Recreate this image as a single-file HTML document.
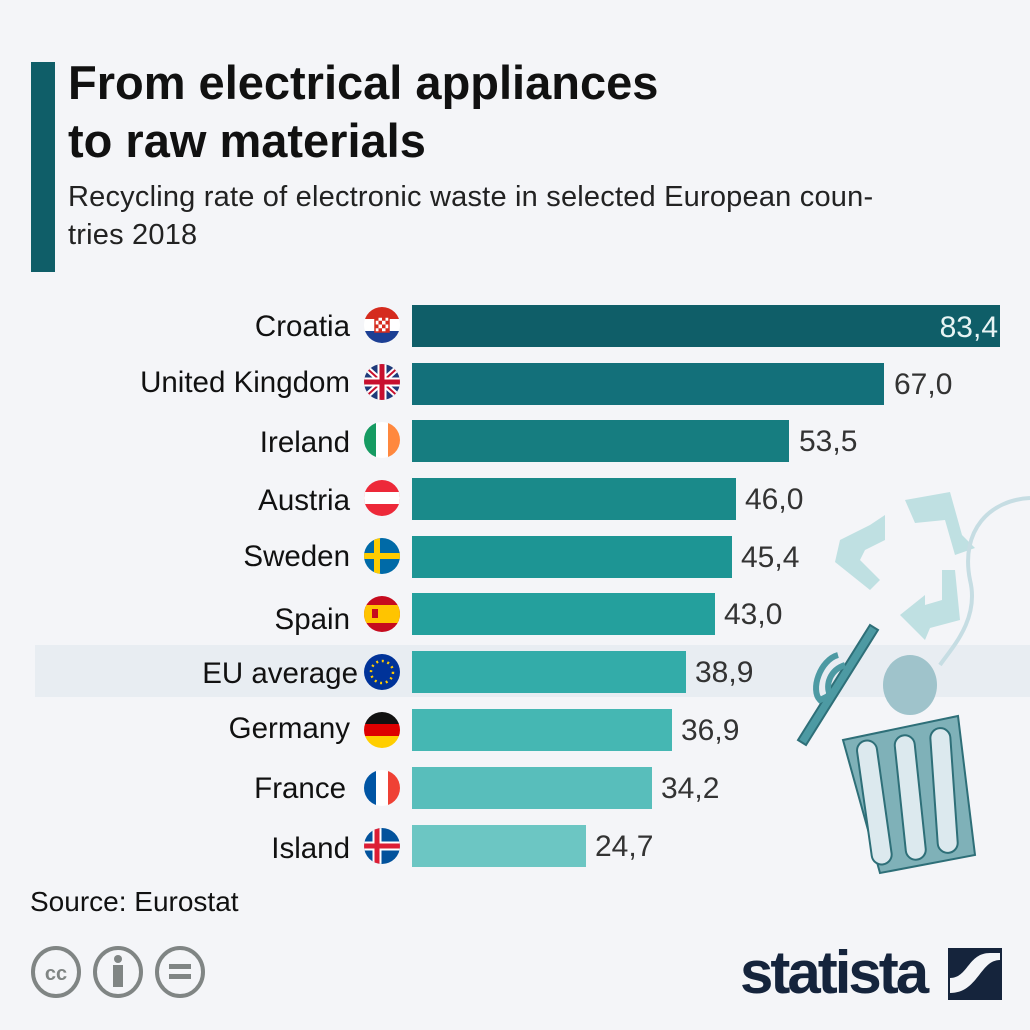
<!DOCTYPE html>
<html><head><style>
body{margin:0;background:#f4f5f8;}
#c{position:relative;width:1030px;height:1030px;background:#f4f5f8;font-family:"Liberation Sans",sans-serif;overflow:hidden}
.t{position:absolute;white-space:nowrap}
.lab{position:absolute;right:680px;font-size:29.5px;color:#111;white-space:nowrap}
.bar{position:absolute;left:412px;height:42px}
.val{position:absolute;font-size:30px;color:#333}
</style></head><body><div id="c">
<div style="position:absolute;left:31px;top:62px;width:24px;height:210px;background:#0f5e68"></div>
<div class="t" style="left:68px;top:54px;font-size:47px;font-weight:bold;line-height:58px;color:#111">From electrical appliances<br>to raw materials</div>
<div class="t" style="left:68px;top:178px;font-size:29px;line-height:38px;color:#222;letter-spacing:0.2px">Recycling rate of electronic waste in selected European coun-<br>tries 2018</div>
<div style="position:absolute;left:35px;top:645px;width:995px;height:52px;background:#e8edf2"></div>

<svg style="position:absolute;left:0;top:0" width="1030" height="1030">
<g fill="#bfe0e2">
<path d="M905 500 L950 492 L962 535 L975 548 L955 555 L945 520 L915 523 Z"/>
<path d="M840 540 L870 525 L885 515 L885 540 L865 550 L860 560 L880 580 L870 590 L835 562 Z"/>
<path d="M955 570 L960 620 L930 628 L925 640 L900 615 L925 595 L925 605 L942 600 L942 570 Z"/>
</g>
<path d="M1030 498 C990 500 960 530 970 580 C980 620 950 650 940 665" fill="none" stroke="#c6dde3" stroke-width="4"/>
<ellipse cx="910" cy="685" rx="27" ry="30" fill="#9fc3cb"/>
<path d="M870 625 L798 740 L806 745 L878 630 Z" fill="#4d9aa3" stroke="#2e6f78" stroke-width="2"/>
<path d="M838 655 C820 660 810 690 820 700 L830 695 C825 685 830 670 845 665" fill="none" stroke="#4d9aa3" stroke-width="6"/>
<path d="M843 740 L958 716 L975 855 L880 873 Z" fill="#7fb1b8" stroke="#2e6f78" stroke-width="2"/>
<g fill="#dce9ee" stroke="#2e6f78" stroke-width="2">
<rect x="864" y="740" width="20" height="125" rx="10" transform="rotate(-8 874 800)"/>
<rect x="900" y="735" width="20" height="125" rx="10" transform="rotate(-6 910 795)"/>
<rect x="934" y="728" width="20" height="125" rx="10" transform="rotate(-4 944 790)"/>
</g>
</svg>

<div class="bar" style="top:305px;width:588px;background:#0f5e68"></div>
<div class="val" style="right:32px;top:311px;color:#e8f4f4">83,4</div>
<div class="bar" style="top:363px;width:472px;background:#13707a"></div><div class="val" style="left:894px;top:368px">67,0</div>
<div class="bar" style="top:420px;width:377px;background:#167d80"></div><div class="val" style="left:799px;top:425px">53,5</div>
<div class="bar" style="top:478px;width:324px;background:#1a8a8a"></div><div class="val" style="left:745px;top:483px">46,0</div>
<div class="bar" style="top:536px;width:320px;background:#1d9594"></div><div class="val" style="left:741px;top:541px">45,4</div>
<div class="bar" style="top:593px;width:303px;background:#24a09d"></div><div class="val" style="left:724px;top:598px">43,0</div>
<div class="bar" style="top:651px;width:274px;background:#33aca9"></div><div class="val" style="left:695px;top:656px">38,9</div>
<div class="bar" style="top:709px;width:260px;background:#45b7b3"></div><div class="val" style="left:681px;top:714px">36,9</div>
<div class="bar" style="top:767px;width:240px;background:#58bebb"></div><div class="val" style="left:661px;top:772px">34,2</div>
<div class="bar" style="top:825px;width:174px;background:#6cc6c3"></div><div class="val" style="left:595px;top:830px">24,7</div>

<div class="lab" style="top:310px">Croatia</div>
<div class="lab" style="top:366px">United Kingdom</div>
<div class="lab" style="top:426px">Ireland</div>
<div class="lab" style="top:484px">Austria</div>
<div class="lab" style="top:540px">Sweden</div>
<div class="lab" style="top:603px">Spain</div>
<div class="lab" style="top:657px;right:672px">EU average</div>
<div class="lab" style="top:712px">Germany</div>
<div class="lab" style="top:772px;right:684px">France</div>
<div class="lab" style="top:832px">Island</div>

<svg style="position:absolute;left:362px;top:0" width="40" height="900">
<defs><clipPath id="cp"><circle cx="20" cy="0" r="18"/></clipPath></defs>
<g transform="translate(0,325)" clip-path="url(#cp)"><rect x="0" y="-18" width="40" height="12" fill="#d52b1e"/><rect x="0" y="-6" width="40" height="12" fill="#fff"/><rect x="0" y="6" width="40" height="12" fill="#1c3f94"/><rect x="13" y="-8" width="14" height="15" fill="#fff" stroke="#d52b1e" stroke-width="1.5"/><path d="M13 -8h3.5v3.75h-3.5zM20 -8h3.5v3.75h-3.5zM16.5 -4.25h3.5v3.75h-3.5zM23.5 -4.25h3.5v3.75h-3.5zM13 -0.5h3.5v3.75h-3.5zM20 -0.5h3.5v3.75h-3.5zM16.5 3.25h3.5v3.75h-3.5zM23.5 3.25h3.5v3.75h-3.5z" fill="#d52b1e"/></g>
<g transform="translate(0,382)" clip-path="url(#cp)"><rect x="0" y="-18" width="40" height="36" fill="#1f3a7a"/><path d="M0 -18 L40 18 M40 -18 L0 18" stroke="#fff" stroke-width="6"/><path d="M0 -18 L40 18 M40 -18 L0 18" stroke="#c8102e" stroke-width="2"/><path d="M20 -18 V18 M0 0 H40" stroke="#fff" stroke-width="9"/><path d="M20 -18 V18 M0 0 H40" stroke="#c8102e" stroke-width="5"/></g>
<g transform="translate(0,440)" clip-path="url(#cp)"><rect x="0" y="-18" width="14" height="36" fill="#169b62"/><rect x="14" y="-18" width="12" height="36" fill="#fff"/><rect x="26" y="-18" width="14" height="36" fill="#ff883e"/></g>
<g transform="translate(0,498)" clip-path="url(#cp)"><rect x="0" y="-18" width="40" height="36" fill="#ed2939"/><rect x="0" y="-6" width="40" height="12" fill="#fff"/></g>
<g transform="translate(0,556)" clip-path="url(#cp)"><rect x="0" y="-18" width="40" height="36" fill="#006aa7"/><path d="M15 -18 V18 M0 0 H40" stroke="#fecc00" stroke-width="6"/></g>
<g transform="translate(0,614)" clip-path="url(#cp)"><rect x="0" y="-18" width="40" height="36" fill="#c60b1e"/><rect x="0" y="-9" width="40" height="18" fill="#ffc400"/><rect x="10" y="-5" width="6" height="9" fill="#c60b1e"/></g>
<g transform="translate(0,672)" clip-path="url(#cp)"><rect x="0" y="-18" width="40" height="36" fill="#003399"/><circle cx="20" cy="0" r="11" fill="none" stroke="#ffcc00" stroke-width="2.5" stroke-dasharray="2 3.7"/></g>
<g transform="translate(0,730)" clip-path="url(#cp)"><rect x="0" y="-18" width="40" height="12" fill="#111"/><rect x="0" y="-6" width="40" height="12" fill="#dd0000"/><rect x="0" y="6" width="40" height="12" fill="#ffce00"/></g>
<g transform="translate(0,788)" clip-path="url(#cp)"><rect x="0" y="-18" width="14" height="36" fill="#0055a4"/><rect x="14" y="-18" width="12" height="36" fill="#fff"/><rect x="26" y="-18" width="14" height="36" fill="#ef4135"/></g>
<g transform="translate(0,846)" clip-path="url(#cp)"><rect x="0" y="-18" width="40" height="36" fill="#02529c"/><path d="M15 -18 V18 M0 0 H40" stroke="#fff" stroke-width="9"/><path d="M15 -18 V18 M0 0 H40" stroke="#dc1e35" stroke-width="5"/></g>
</svg>

<div class="t" style="left:30px;top:886px;font-size:28px;color:#111">Source: Eurostat</div>
<svg style="position:absolute;left:28px;top:945px" width="180" height="60">
<g fill="none" stroke="#808584" stroke-width="4"><ellipse cx="28" cy="27" rx="23" ry="24"/><ellipse cx="90" cy="27" rx="23" ry="24"/><ellipse cx="152" cy="27" rx="23" ry="24"/></g>
<text x="28" y="35" font-family="Liberation Sans" font-size="20" font-weight="bold" fill="#808584" text-anchor="middle">cc</text>
<circle cx="90" cy="14" r="4" fill="#808584"/><rect x="85" y="20" width="10" height="22" fill="#808584"/>
<rect x="141" y="19" width="22" height="5" fill="#808584"/><rect x="141" y="29" width="22" height="5" fill="#808584"/>
</svg>
<div class="t" style="left:740px;top:938px;font-size:60px;font-weight:bold;color:#15243c;letter-spacing:-3px">statista</div>
<svg style="position:absolute;left:948px;top:948px" width="54" height="52"><rect width="54" height="52" fill="#15243c"/><path d="M2 30 C20 30 20 5 42 5 L52 5 L52 12 C32 12 30 45 2 45 Z" fill="#f4f5f8"/></svg>
</div></body></html>
